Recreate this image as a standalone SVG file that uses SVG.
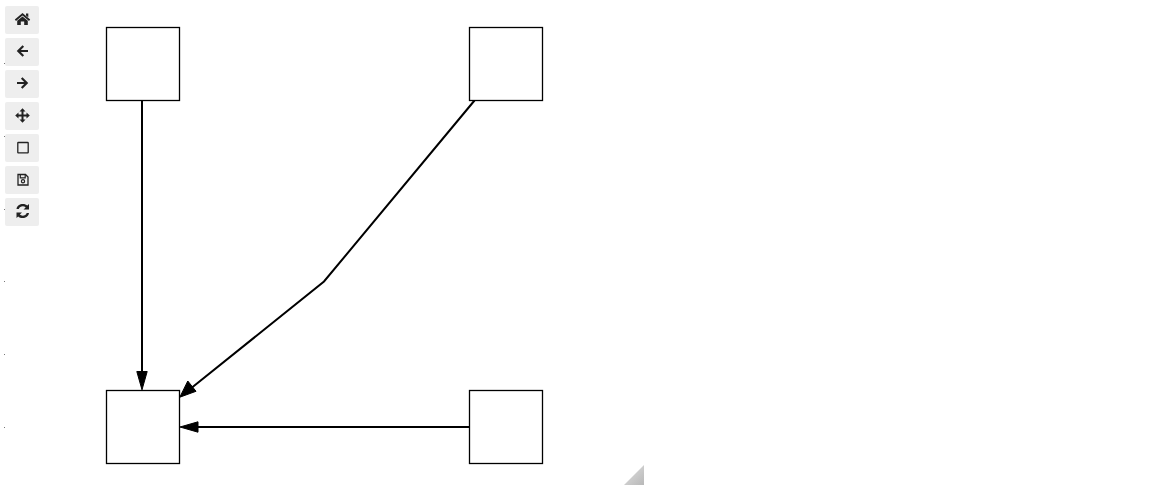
<svg xmlns="http://www.w3.org/2000/svg" width="1168" height="489" viewBox="0 0 1168 489">
<style>
.node{fill:#fff;stroke:#000;stroke-width:1.3}
.edge{fill:none;stroke:#000;stroke-width:2}
.head{fill:#000;stroke:#000;stroke-width:1}
.btn{fill:#eee}
.ic{fill:#222}
.ics{fill:none;stroke:#222;stroke-width:2.200}
.dot{fill:#777}
</style>
<defs>
<linearGradient id="corner" x1="0" y1="0" x2="1" y2="1"><stop offset="0" stop-color="#e2e2e2"/><stop offset="1" stop-color="#b8b8b8"/></linearGradient>
</defs>
<g id="ticks">
<rect class="dot" x="4" y="63" width="1" height="1"/>
<rect class="dot" x="4" y="136" width="1" height="1"/>
<rect class="dot" x="4" y="209" width="1" height="1"/>
<rect class="dot" x="4" y="281" width="1" height="1"/>
<rect class="dot" x="4" y="354" width="1" height="1"/>
<rect class="dot" x="4" y="427" width="1" height="1"/>
</g>
<g id="toolbar">
<g id="btn-home"><rect class="btn" x="5" y="6" width="34" height="28" rx="2"/><path class="ic" d="M14.800 19.500L22.500 13L30.200 19.500L29 21L22.500 15.500L16 21ZM17.200 20.800L22.500 16.400L27.800 20.800V25H24.200V21.500H20.800V25H17.200ZM26 13.500H28.300V17.300L26 15.400Z"/></g>
<g id="btn-back"><rect class="btn" x="5" y="38" width="34" height="28" rx="2"/><path class="ics" d="M28 51H18.500M23.300 46L18.300 51L23.300 56"/></g>
<g id="btn-forward"><rect class="btn" x="5" y="70" width="34" height="28" rx="2"/><path class="ics" d="M17 83H26.500M21.700 78L26.700 83L21.700 88"/></g>
<g id="btn-pan"><rect class="btn" x="5" y="102" width="34" height="28" rx="2"/><path class="ic" d="M22.500 108.300L25.500 111.500H23.500V114.500H26.500V112.500L29.800 115.500L26.500 118.500V116.500H23.500V119.500H25.500L22.500 122.700L19.500 119.500H21.500V116.500H18.500V118.500L15.200 115.500L18.500 112.500V114.500H21.500V111.500H19.500Z"/></g>
<g id="btn-select"><rect class="btn" x="5" y="134" width="34" height="28" rx="2"/><rect x="17.800" y="142.500" width="10.400" height="10.400" rx="0.500" fill="none" stroke="#222" stroke-width="1.300"/></g>
<g id="btn-save"><rect class="btn" x="5" y="166" width="34" height="28" rx="2"/><path d="M18 174.500H25.500L28 177V185H18Z" fill="none" stroke="#222" stroke-width="1.300"/><path d="M20.300 174.500V177.800H25.200V174.500" fill="none" stroke="#222" stroke-width="1.200"/><circle cx="23" cy="181.300" r="1.600" fill="none" stroke="#222" stroke-width="1.200"/></g>
<g id="btn-refresh"><rect class="btn" x="5" y="198" width="34" height="28" rx="2"/><path class="ic" d="M16.500 209C17 205.800 19.700 204 22.800 204C24.800 204 26.300 204.700 27.300 205.600L29 204V209.500H23.500L25.700 207.400C24.900 206.800 23.900 206.300 22.800 206.300C21 206.300 19.400 207.300 18.800 209ZM29 213C28.500 216.200 25.800 218 22.700 218C20.700 218 19.200 217.300 18.200 216.400L16.500 218V212.500H22L19.800 214.600C20.600 215.200 21.600 215.700 22.700 215.700C24.500 215.700 26.100 214.700 26.700 213Z"/></g>
</g>
<g id="connectors">
<path class="edge" d="M142 100.500V374"/>
<path class="head" d="M142 389.800L136.800 371.500H147.200Z"/>
<path class="edge" d="M474.500 100.500L324 281.500L192 387.500"/>
<path class="head" d="M179.800 397.200L187.800 381L196 391.300Z"/>
<path class="edge" d="M469.500 427H196"/>
<path class="head" d="M180 427L198 421.800V432.200Z"/>
</g>
<g id="node-top-left"><rect class="node" x="106.500" y="27.500" width="73" height="73"/></g>
<g id="node-top-right"><rect class="node" x="469.500" y="27.500" width="73" height="73"/></g>
<g id="node-bottom-left"><rect class="node" x="106.500" y="390.500" width="73" height="73"/></g>
<g id="node-bottom-right"><rect class="node" x="469.500" y="390.500" width="73" height="73"/></g>
<g id="resize-corner"><path d="M624 485L644 465V485Z" fill="url(#corner)"/></g>
</svg>
